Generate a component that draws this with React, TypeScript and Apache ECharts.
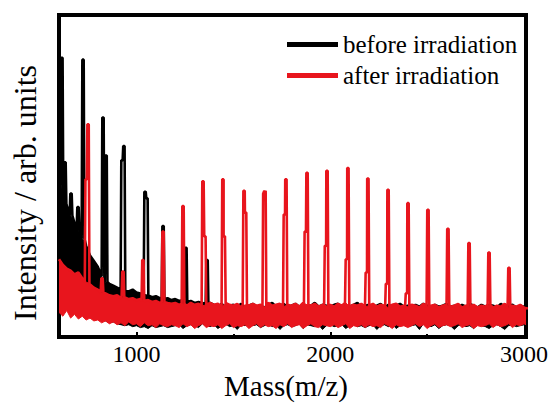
import React, { useEffect, useRef } from "react";
import * as echarts from "echarts";

const X_MIN = 600;
const X_MAX = 3010;
const NOISE_START = 600;
const NOISE_STEP = 20;

// Noise band of "after irradiation" (red): upper and lower edges, one value every 20 Da from 600
const redUpper = [
  82, 76, 72, 70, 66, 68, 62, 58, 56, 52,
  50, 47, 46, 44, 43, 44, 41, 42, 40, 41,
  39, 40, 38, 39, 37, 38, 36, 37, 36, 35,
  36, 34, 35, 33, 36, 34, 35, 33, 34, 36,
  34, 35, 32, 36, 34, 33, 35, 31, 34, 33,
  35, 33, 34, 32, 36, 33, 34, 35, 32, 34,
  33, 35, 32, 36, 34, 33, 35, 32, 34, 33,
  34, 32, 35, 33, 36, 32, 34, 33, 35, 32,
  33, 35, 32, 34, 33, 31, 34, 35, 32, 33,
  32, 34, 33, 31, 35, 32, 33, 34, 31, 33,
  34, 32, 33, 35, 31, 33, 32, 34, 31, 33,
  32, 34, 31, 33, 32, 35, 31, 33, 32, 34,
  31, 30,
];
const redLower = [
  26, 22, 28, 20, 24, 19, 22, 18, 20, 17,
  18, 15, 17, 14, 16, 13, 15, 12, 16, 13,
  14, 11, 15, 12, 13, 10, 14, 12, 11, 13,
  12, 10, 14, 11, 13, 9, 12, 14, 10, 12,
  11, 13, 9, 12, 14, 10, 12, 11, 13, 9,
  12, 14, 10, 13, 11, 12, 9, 13, 11, 14,
  10, 12, 13, 9, 12, 14, 11, 10, 13, 12,
  11, 13, 10, 12, 14, 9, 12, 11, 13, 10,
  13, 11, 12, 10, 14, 12, 9, 13, 11, 12,
  10, 12, 14, 11, 13, 9, 12, 14, 10, 12,
  13, 11, 12, 14, 10, 12, 13, 9, 12, 11,
  12, 14, 10, 13, 11, 12, 14, 10, 13, 12,
  14, 12,
];

// Noise band of "before irradiation" (black), same grid
const blackUpper = [
  165, 150, 140, 128, 120, 112, 104, 96, 86, 80,
  74, 64, 58, 56, 54, 52, 50, 49, 48, 50,
  47, 46, 45, 44, 42, 43, 41, 40, 41, 39,
  40, 38, 39, 37, 38, 36, 37, 36, 35, 36,
  34, 32, 35, 31, 33, 34, 32, 35, 31, 33,
  35, 32, 33, 31, 34, 36, 32, 33, 35, 31,
  33, 35, 32, 34, 31, 33, 36, 32, 34, 33,
  32, 34, 35, 31, 33, 32, 34, 36, 31, 33,
  34, 32, 33, 35, 31, 34, 32, 33, 35, 32,
  33, 31, 34, 32, 35, 33, 31, 34, 32, 33,
  35, 32, 33, 31, 34, 32, 35, 33, 31, 34,
  32, 34, 33, 31, 35, 32, 33, 34, 31, 33,
  32, 31,
];
const blackLower = [
  40, 35, 38, 32, 34, 30, 28, 26, 24, 22,
  20, 18, 17, 15, 16, 14, 13, 12, 13, 11,
  12, 10, 11, 9, 12, 10, 11, 12, 10, 11,
  12, 13, 9, 12, 13, 12, 10, 14, 12, 11,
  13, 9, 12, 14, 11, 12, 8, 13, 12, 14,
  12, 13, 10, 12, 14, 11, 13, 8, 12, 13,
  11, 12, 14, 9, 13, 12, 11, 13, 8, 12,
  13, 11, 12, 13, 9, 12, 14, 11, 12, 10,
  12, 13, 8, 12, 13, 11, 14, 9, 12, 13,
  11, 12, 13, 8, 14, 12, 11, 13, 9, 12,
  13, 12, 8, 12, 13, 11, 12, 9, 13, 12,
  11, 9, 12, 13, 11, 8, 12, 13, 11, 12,
  13, 12,
];

// Peaks
const redPeakMass = [750, 822, 930, 1033, 1137, 1240, 1343, 1446, 1555, 1663, 1771, 1880, 1983, 2091, 2194, 2298, 2401, 2504, 2607, 2716, 2819, 2922];
const redPeakHeight = [224, 62, 69, 81, 111, 138, 164, 166, 154, 154, 166, 173, 175, 178, 167, 155, 141, 134, 114, 99, 89, 73];
const redShoulderMass = [740, 1353, 1453, 1563, 1657, 1763, 1871, 1975, 2083, 2186, 2290, 2393];
const redShoulderHeight = [166, 106, 106, 131, 151, 129, 111, 96, 82, 68, 56, 46];

const blackPeakMass = [615, 631, 662, 698, 724, 827, 843, 925, 935, 1044, 1054, 1137, 1255, 1364];
const blackPeakHeight = [294, 184, 151, 137, 292, 231, 191, 186, 201, 153, 146, 117, 94, 81];

const xLabelValues = [1000, 2000, 3000];
const xMajorTicks = [1000, 2000];
const xMinorTicks = [1500, 2500];

const seriesNames = ["before irradiation", "after irradiation"];
const yTitle = "Intensity / arb. units";
const xTitle = "Mass(m/z)";
const BLACK = "#000000";
const RED = "#e8151d";

function massAt(i: number) {
  return NOISE_START + i * NOISE_STEP;
}

// Line through the upper noise edge with narrow spikes for the peaks
function buildPeakLine(upper: number[], peakMass: number[], peakHeight: number[]) {
  const pts: number[][] = [];
  upper.forEach((v, i) => {
    const m = massAt(i);
    if (peakMass.some((p) => Math.abs(p - m) < 10)) return;
    pts.push([m, v]);
  });
  const order = peakMass.map((m, i) => i).sort((a, b) => peakMass[a] - peakMass[b]);
  order.forEach((idx, k) => {
    const m = peakMass[idx];
    const h = peakHeight[idx];
    const base = upper[Math.min(upper.length - 1, Math.max(0, Math.round((m - NOISE_START) / NOISE_STEP)))];
    const prev = k > 0 ? peakMass[order[k - 1]] : -Infinity;
    const next = k < order.length - 1 ? peakMass[order[k + 1]] : Infinity;
    if (m - prev > 14) pts.push([m - 7, base]);
    pts.push([m - 3.5, h]);
    pts.push([m + 3.5, h]);
    if (next - m > 14) pts.push([m + 7, base]);
  });
  pts.sort((a, b) => a[0] - b[0]);
  return pts;
}

// Noise band: one closed polygon (upper edge forward, lower edge back), placed via api.coord
function bandSeries(key: string, upper: number[], lower: number[], color: string, z: number) {
  return {
    name: key + " noise",
    type: "custom",
    data: [[massAt(0), upper[0]]],
    clip: true,
    silent: true,
    z,
    renderItem: (_params: any, api: any) => {
      const pts: number[][] = [];
      for (let i = 0; i < upper.length; i++) pts.push(api.coord([massAt(i), upper[i]]));
      for (let i = lower.length - 1; i >= 0; i--) pts.push(api.coord([massAt(i), lower[i]]));
      return {
        type: "polygon",
        shape: { points: pts },
        style: { fill: color, stroke: color, lineWidth: 1 },
      };
    },
  };
}

const FONT = "Liberation Serif";

export default function App() {
  const ref = useRef<HTMLDivElement>(null);
  useEffect(() => {
    if (!ref.current) return;
    const chart = echarts.init(ref.current, null, { renderer: "svg" });
    const blackLine = buildPeakLine(blackUpper, blackPeakMass, blackPeakHeight);
    const redLine = buildPeakLine(
      redUpper,
      redPeakMass.concat(redShoulderMass),
      redPeakHeight.concat(redShoulderHeight)
    );
    chart.setOption({
      animation: false,
      backgroundColor: "#fff",
      grid: {
        left: 59,
        right: 27,
        top: 15,
        bottom: 51,
        show: true,
        borderColor: "#000",
        borderWidth: 4,
        backgroundColor: "transparent",
      },
      legend: {
        orient: "vertical",
        left: 282,
        top: 27,
        itemWidth: 51,
        itemHeight: 5,
        itemGap: 6,
        icon: "rect",
        data: seriesNames,
        textStyle: { fontFamily: FONT, fontSize: 25, color: "#000", lineHeight: 25 },
      },
      graphic: [
        {
          type: "text",
          x: 25,
          y: 193,
          rotation: Math.PI / 2,
          silent: true,
          style: {
            text: yTitle,
            fontFamily: FONT,
            fontSize: 32,
            fill: "#000",
            textAlign: "center",
            textVerticalAlign: "middle",
          },
        },
      ],
      xAxis: [
        {
          type: "value",
          min: X_MIN,
          max: X_MAX,
          axisLine: { show: false },
          splitLine: { show: false },
          axisTick: {
            show: true,
            inside: true,
            length: 5,
            lineStyle: { color: "#000", width: 2 },
            customValues: xMajorTicks,
          },
          axisLabel: {
            customValues: xLabelValues,
            formatter: (v: number) => String(v),
            fontFamily: FONT,
            fontSize: 24,
            color: "#000",
            margin: 5,
          },
          name: xTitle,
          nameLocation: "middle",
          nameGap: 21,
          nameTextStyle: { fontFamily: FONT, fontSize: 29, color: "#000", padding: [0, 13, 0, 0] },
        },
        {
          type: "value",
          min: X_MIN,
          max: X_MAX,
          position: "bottom",
          axisLine: { show: false },
          splitLine: { show: false },
          axisLabel: { show: false },
          axisTick: {
            show: true,
            inside: true,
            length: 3,
            lineStyle: { color: "#000", width: 2 },
            customValues: xMinorTicks,
          },
        },
      ],
      yAxis: {
        type: "value",
        min: 0,
        max: 339,
        axisLine: { show: false },
        axisTick: { show: false },
        axisLabel: { show: false },
        splitLine: { show: false },
      },
      series: [
        bandSeries("black", blackUpper, blackLower, BLACK, 1),
        {
          name: seriesNames[0],
          type: "line",
          data: blackLine,
          showSymbol: false,
          symbol: "none",
          lineStyle: { color: BLACK, width: 2.6 },
          itemStyle: { color: BLACK },
          z: 2,
        },
        bandSeries("red", redUpper, redLower, RED, 3),
        {
          name: seriesNames[1],
          type: "line",
          data: redLine,
          showSymbol: false,
          symbol: "none",
          lineStyle: { color: RED, width: 2.6 },
          itemStyle: { color: RED },
          z: 4,
        },
      ],
    });
    return () => chart.dispose();
  }, []);
  return (
    <div
      ref={ref}
      style={{ position: "fixed", left: 0, top: 0, width: 553, height: 405, background: "#fff" }}
    />
  );
}
